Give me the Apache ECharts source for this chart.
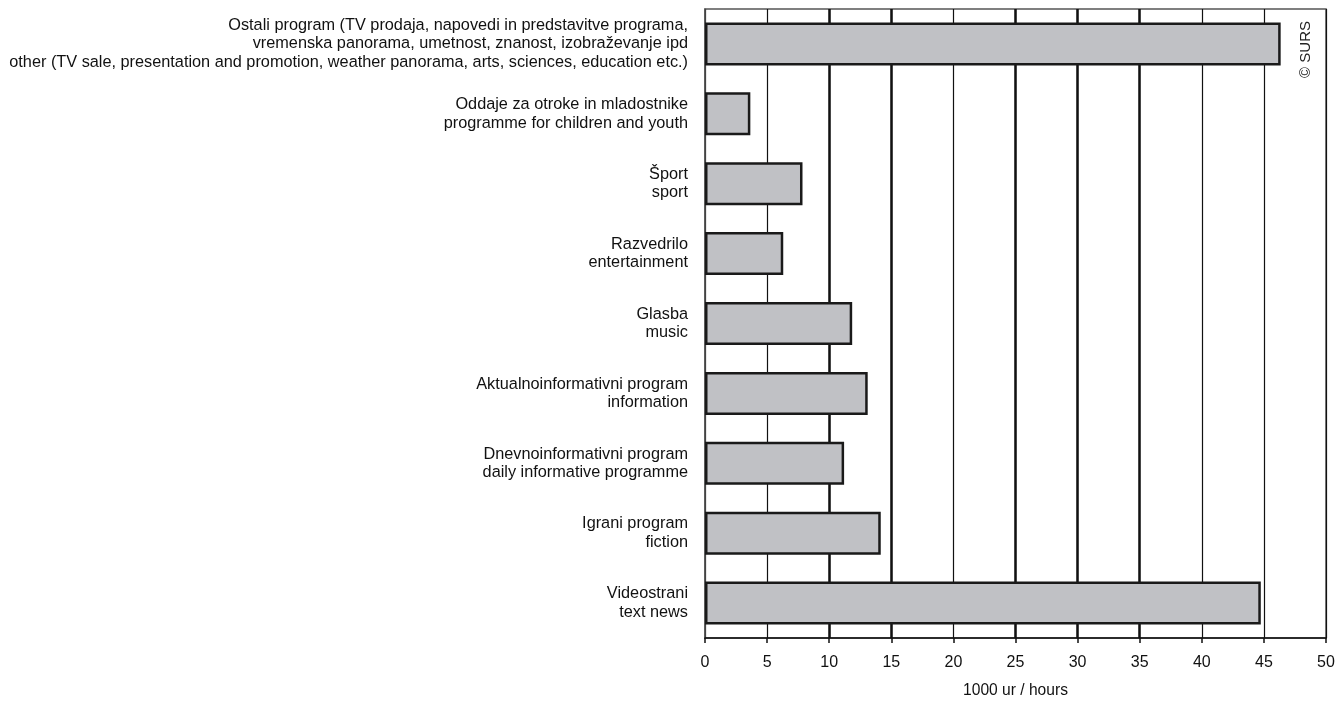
<!DOCTYPE html>
<html>
<head>
<meta charset="utf-8">
<script src="https://cdn.jsdelivr.net/npm/echarts@6/dist/echarts.min.js"></script>
<style>html,body{margin:0;padding:0;background:#fff}#c{width:1341px;height:702px}</style>
</head>
<body>
<div id="c"></div>
<script>
const categories = [
  'Ostali program (TV prodaja, napovedi in predstavitve programa,\nvremenska panorama, umetnost, znanost, izobraževanje ipd\nother (TV sale, presentation and promotion, weather panorama, arts, sciences, education etc.)',
  'Oddaje za otroke in mladostnike\nprogramme for children and youth',
  'Šport\nsport',
  'Razvedrilo\nentertainment',
  'Glasba\nmusic',
  'Aktualnoinformativni program\ninformation',
  'Dnevnoinformativni program\ndaily informative programme',
  'Igrani program\nfiction',
  'Videostrani\ntext news'
];
const values = [46.35, 3.65, 7.85, 6.3, 11.85, 13.1, 11.2, 14.15, 44.75];
const xTicks = [0, 5, 10, 15, 20, 25, 30, 35, 40, 45, 50];
const thickGrid = [10, 15, 25, 30, 35];
const axisTitle = '1000 ur / hours';
const copyright = '© SURS';

const chart = echarts.init(document.getElementById('c'));
const font = 'Liberation Sans, Arial, sans-serif';
chart.setOption({
  animation: false,
  backgroundColor: '#fff',
  grid: {left: 705, right: 15, top: 9, bottom: 64, containLabel: false, outerBoundsMode: 'none',
         show: true, borderColor: '#555', borderWidth: 1.5, backgroundColor: 'transparent'},
  xAxis: {
    type: 'value', min: xTicks[0], max: xTicks[xTicks.length - 1], interval: 5,
    axisLine: {show: true, lineStyle: {color: '#111', width: 1.5}},
    axisTick: {show: true, length: 5, lineStyle: {color: '#111', width: 1.5}},
    axisLabel: {color: '#111', fontSize: 16, fontFamily: font, margin: 17},
    splitLine: {show: true, lineStyle: {color: '#111', width: 1.2}},
    name: axisTitle, nameLocation: 'middle', nameGap: 45,
    nameTextStyle: {color: '#111', fontSize: 15.6, fontFamily: font}
  },
  yAxis: {
    type: 'category', data: categories, inverse: true,
    axisLine: {show: true, lineStyle: {color: '#555', width: 1.5}},
    axisTick: {show: false},
    axisLabel: {color: '#111', fontSize: 16.3, fontFamily: font, margin: 17, lineHeight: 18.5, align: 'right'},
    splitLine: {show: false}
  },
  series: [
    {
      type: 'line', data: [], z: 1, silent: true,
      markLine: {
        z: 1, silent: true, symbol: 'none', label: {show: false},
        lineStyle: {color: '#111', width: 2.5, type: 'solid'},
        data: thickGrid.map(v => ({xAxis: v}))
      }
    },
    {
      type: 'bar', data: values, z: 3, barWidth: 43,
      itemStyle: {color: '#c0c1c5', borderColor: '#1a1a1a', borderWidth: 2.5}
    }
  ],
  graphic: [{
    type: 'text', left: 1298, top: 21, rotation: Math.PI / 2,
    style: {text: copyright, fill: '#222', font: '15px ' + font}
  }]
});
</script>
</body>
</html>
